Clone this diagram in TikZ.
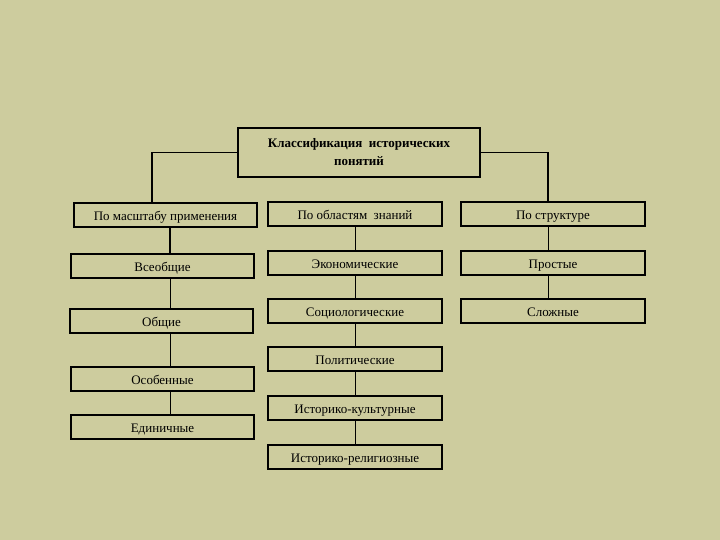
\documentclass[tikz,border=0pt]{standalone}
\usepackage{fontspec}
\setmainfont{Liberation Serif}
\definecolor{bgolive}{RGB}{205,204,158}

\begin{document}
\begin{tikzpicture}[x=1pt,y=-1pt,
    box/.style={draw, line width=1.6pt, minimum height=24pt, inner sep=0pt,
                text height=10.5pt, text depth=0pt, font=\fontsize{13}{15}\selectfont},
    link/.style={line width=0.8pt}]
    % Background
    \fill[bgolive] (0,0) rectangle (720,540);

    % Root
    \node[draw, line width=1.6pt, minimum width=242pt, minimum height=49pt, align=center,
          font=\bfseries\fontsize{13}{18}\selectfont] (root) at (359,152.5)
          {Классификация\ \ исторических\\понятий};

    % Second level
    \node[box, minimum width=183pt] (scale) at (165.5,215) {По масштабу применения};
    \node[box, minimum width=174pt] (field) at (355,214) {По областям\ \ знаний};
    \node[box, minimum width=184pt] (struct) at (553,214) {По структуре};

    % Left column
    \node[box, minimum width=183pt] (univ) at (162.5,266) {Всеобщие};
    \node[box, minimum width=183pt] (common) at (161.5,321) {Общие};
    \node[box, minimum width=183pt] (special) at (162.5,379) {Особенные};
    \node[box, minimum width=183pt] (single) at (162.5,427) {Единичные};

    % Middle column
    \node[box, minimum width=174pt] (econ) at (355,263) {Экономические};
    \node[box, minimum width=174pt] (socio) at (355,311) {Социологические};
    \node[box, minimum width=174pt] (polit) at (355,359) {Политические};
    \node[box, minimum width=174pt] (cult) at (355,408) {Историко-культурные};
    \node[box, minimum width=174pt] (relig) at (355,457) {Историко-религиозные};

    % Right column
    \node[box, minimum width=184pt] (simple) at (553,263) {Простые};
    \node[box, minimum width=184pt] (complex) at (553,311) {Сложные};

    % Root to sides
    \draw[line width=1.6pt] (root.west) -| ([xshift=-13.5pt]scale.north);
    \draw[line width=1.6pt] (root.east) -| ([xshift=-5pt]struct.north);

    % Left links
    \draw[line width=2pt] ([xshift=4.5pt]scale.south) -- ([xshift=7.5pt]univ.north);
    \draw[link] ([xshift=7.5pt]univ.south) -- ([xshift=8.5pt]common.north);
    \draw[link] ([xshift=8.5pt]common.south) -- ([xshift=7.5pt]special.north);
    \draw[link] ([xshift=7.5pt]special.south) -- ([xshift=7.5pt]single.north);

    % Middle links
    \draw[link] (field) -- (econ);
    \draw[link] (econ) -- (socio);
    \draw[link] (socio) -- (polit);
    \draw[link] (polit) -- (cult);
    \draw[link] (cult) -- (relig);

    % Right links
    \draw[link] ([xshift=-5pt]struct.south) -- ([xshift=-5pt]simple.north);
    \draw[link] ([xshift=-5pt]simple.south) -- ([xshift=-5pt]complex.north);
\end{tikzpicture}
\end{document}
